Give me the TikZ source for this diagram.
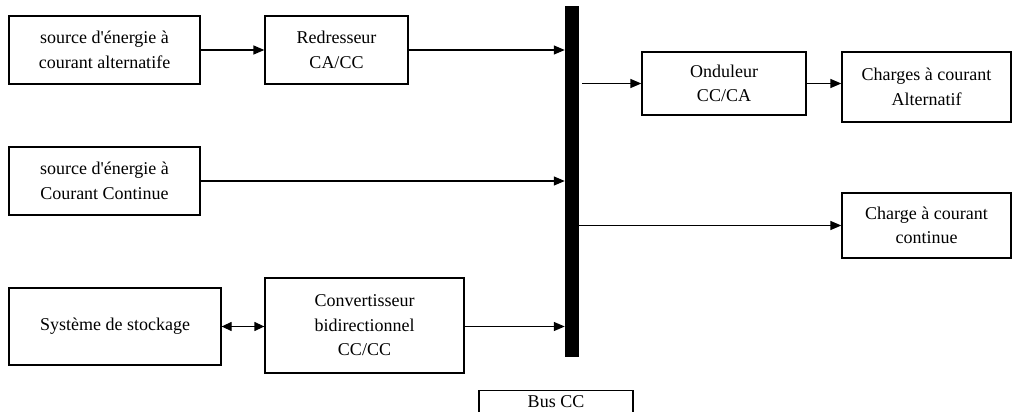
\documentclass[tikz,border=0pt]{standalone}
\usepackage{fontspec}
\setmainfont{Liberation Serif}
\usetikzlibrary{arrows.meta}
\tikzset{
  lbl/.style={font=\fontsize{18}{24.5}\selectfont},
  blk/.style={draw, line width=1.3pt, fill=white, align=center, inner sep=2pt, lbl},
  conn/.style={line width=1.3pt, -{Triangle[length=11pt,width=9pt]}},
  biconn/.style={line width=1.3pt, {Triangle[length=10pt,width=9pt]}-{Triangle[length=10pt,width=9pt]}}
}
\begin{document}
\begin{tikzpicture}[x=1pt,y=-1pt]
  \useasboundingbox (0,0) rectangle (1012,412);
  \clip (0,0) rectangle (1012,412);
  \fill[white] (0,0) rectangle (1012,412);

  % DC bus bar
  \node[fill=black, minimum width=14pt, minimum height=351pt, inner sep=0pt] (bus) at (572,181.5) {};

  % left column: sources and converters
  \node[blk, minimum width=191pt, minimum height=68pt] (src1) at (104.5,50) {source d\textquotesingle énergie à\\courant alternatife};
  \node[blk, minimum width=143pt, minimum height=68pt] (red) at (336.5,50) {Redresseur\\CA/CC};
  \node[blk, minimum width=191pt, minimum height=68pt] (src2) at (104.5,181) {source d\textquotesingle énergie à\\Courant Continue};
  \node[blk, minimum width=212pt, minimum height=77pt] (sto) at (115,326.5) {Système de stockage};
  \node[blk, minimum width=199pt, minimum height=95pt] (conv) at (364.5,325.5) {Convertisseur\\bidirectionnel\\CC/CC};

  % right column: inverter and loads
  \node[blk, minimum width=164pt, minimum height=63pt] (ond) at (724,83.5) {Onduleur\\CC/CA};
  \node[blk, minimum width=169pt, minimum height=70pt] (chA) at (926.5,87) {Charges à courant\\Alternatif};
  \node[blk, minimum width=169pt, minimum height=65pt] (chC) at (926.5,225.5) {Charge à courant\\continue};

  % bus label
  \node[blk, minimum width=154pt, minimum height=44pt, anchor=north] (busl) at (556,390) {};
  \node[lbl] (busltxt) at (556,402) {Bus CC};

  % connections
  \draw[conn] (src1.east) -- (red.west);
  \draw[conn] (red.east) -- (red.east -| bus.west);
  \draw[conn] (src2.east) -- (src2.east -| bus.west);
  \draw[biconn] (sto.east) -- (sto.east -| conv.west);
  \draw[conn] (conv.east |- sto.east) -- (sto.east -| bus.west);
  \draw[conn] ([xshift=3pt]bus.east |- ond.west) -- (ond.west);
  \draw[conn] (ond.east) -- (ond.east -| chA.west);
  \draw[conn] (bus.east |- chC.west) -- (chC.west);
\end{tikzpicture}
\end{document}
